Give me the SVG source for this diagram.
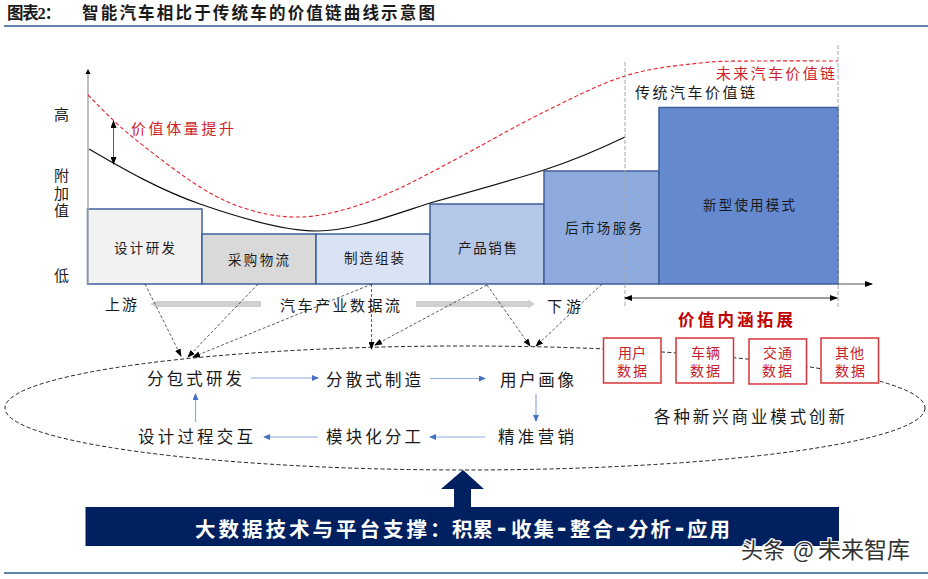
<svg xmlns="http://www.w3.org/2000/svg" width="928" height="579" viewBox="0 0 928 579">
<style>
text{font-family:"Liberation Serif","Noto Sans CJK SC",serif;fill:#1a1a1a;font-size:15px}
.b{font-size:13.5px}
.m{font-size:16.5px}
.l{font-size:15px}
.r{fill:#d01f2c}
.d{font-size:14px;fill:#c8202a}
.dash{fill:none;stroke:#333;stroke-width:.8;stroke-dasharray:3 2}
.blue{fill:none;stroke:#8faadc;stroke-width:1.2;marker-end:url(#bh)}
.box{stroke:#3f5f9a;stroke-width:1.5}
.rb{fill:#fff;stroke:#d8343a;stroke-width:1.5}
.guide{fill:none;stroke:#a6a6a6;stroke-width:1;stroke-dasharray:4 2}
.flow{fill:#d0d0d0}
.h{font-size:28px;font-family:"Liberation Sans",sans-serif}
</style>
<defs>
<marker id="ah" markerWidth="8" markerHeight="6" refX="7" refY="3" orient="auto" markerUnits="userSpaceOnUse"><path d="M0 0L8 3L0 6z" fill="#000"/></marker>
<marker id="ahs" markerWidth="8" markerHeight="6" refX="7" refY="3" orient="auto-start-reverse" markerUnits="userSpaceOnUse"><path d="M0 0L8 3L0 6z" fill="#000"/></marker>
<marker id="bh" markerWidth="7" markerHeight="6" refX="6" refY="3" orient="auto" markerUnits="userSpaceOnUse"><path d="M0 0L7 3L0 6z" fill="#4472c4"/></marker>
</defs>
<g id="frame">
<rect x="4" y="25" width="924" height="2" fill="#5f82ab"/>
<rect x="4" y="572" width="924" height="2" fill="#5f82ab"/>
<text x="7" y="19" style="font-size:16.5px;font-weight:700" textLength="54">图表2：</text>
<text x="82" y="19" style="font-size:16.5px;font-weight:700" textLength="353">智能汽车相比于传统车的价值链曲线示意图</text>
</g>
<g id="axis-labels">
<text x="54" y="120" class="l">高</text>
<text x="54" y="181" class="l">附</text>
<text x="54" y="199" class="l">加</text>
<text x="54" y="216" class="l">值</text>
<text x="54" y="281" class="l">低</text>
</g>
<g id="stage-design"><rect class="box" x="87.5" y="209" width="114.5" height="75" fill="#f2f2f2"/><text class="b" x="114" y="253" textLength="61">设计研发</text></g>
<g id="stage-purchase"><rect class="box" x="202" y="234" width="114" height="50" fill="#d9d9d9"/><text class="b" x="228" y="265" textLength="61">采购物流</text></g>
<g id="stage-manufacture"><rect class="box" x="316" y="234" width="114" height="50" fill="#dae3f3"/><text class="b" x="344" y="263" textLength="60">制造组装</text></g>
<g id="stage-sales"><rect class="box" x="430" y="204" width="114" height="80" fill="#b4c7e7"/><text class="b" x="458" y="253" textLength="59">产品销售</text></g>
<g id="stage-aftermarket"><rect class="box" x="544" y="171" width="115" height="113" fill="#8faadc"/><text class="b" x="565" y="233" textLength="77">后市场服务</text></g>
<g id="stage-newmode"><rect class="box" x="659" y="107.500" width="179" height="176.500" fill="#6589cf"/><text class="b" x="703" y="210" textLength="92">新型使用模式</text></g>
<g id="connectors">
<path d="M88 284V72" fill="none" stroke="#aaa" stroke-width="1.5"/>
<path d="M88 69L90.500 74H85.500z" fill="#000"/>
<path d="M838 284H872" stroke="#555" stroke-width="1" fill="none" marker-end="url(#ah)"/>
<path d="M89 149C125 170 160 190 200 204C240 218 285 231 317 231C350 231 390 216 430 203C470 192 510 181 544 170C575 160 600 149 625 137" fill="none" stroke="#111" stroke-width="1.2"/>
<path d="M88 95C95 101.700 111.300 119.700 130 135C148.700 150.300 180 174.500 200 187C220 199.500 233.300 205 250 210C266.700 215 283.300 217.300 300 217C316.700 216.700 333.300 212.800 350 208C366.700 203.200 381.700 196.500 400 188C418.300 179.500 436 169.700 460 157C484 144.300 516.500 125.500 544 112C571.500 98.500 599 84.200 625 76C651 67.800 677.500 65.500 700 63C722.500 60.500 737 61.300 760 61C783 60.700 825 61 838 61" fill="none" stroke="#e8202a" stroke-width="1.1" stroke-dasharray="4 2.500"/>
<path d="M113.500 121V164" fill="none" stroke="#333" stroke-width=".8" marker-start="url(#ahs)" marker-end="url(#ah)"/>
<path class="guide" d="M625 62V308"/>
<path class="guide" d="M838 45V308"/>
<path d="M625 298H837" fill="none" stroke="#333" stroke-width="1" marker-start="url(#ahs)" marker-end="url(#ah)"/>
<path class="flow" d="M150 304L156 301H261V307H156z"/>
<path class="flow" d="M416 301H528V299.500L535 304L528 308.500V307H416z"/>
<ellipse cx="465" cy="408" rx="460" ry="62" fill="none" stroke="#222" stroke-width="1" stroke-dasharray="4 2.500"/>
<path class="dash" d="M145 284L181 356" marker-end="url(#ah)"/>
<path class="dash" d="M258 284L188 357" marker-end="url(#ah)"/>
<path class="dash" d="M372 284L193 357" marker-end="url(#ah)"/>
<path class="dash" d="M371.500 284V349" marker-end="url(#ah)"/>
<path class="dash" d="M487 285L375 345" marker-end="url(#ah)"/>
<path class="dash" d="M487 285L530 346" marker-end="url(#ah)"/>
<path class="dash" d="M602 284L536 346" marker-end="url(#ah)"/>
<path class="blue" d="M251 378H318"/>
<path class="blue" d="M430 378.500H485"/>
<path class="blue" d="M536 394V421"/>
<path class="blue" d="M485 437H430"/>
<path class="blue" d="M318 437H264"/>
<path class="blue" d="M195.500 422V394"/>
</g>
<g id="labels">
<text class="r" x="131" y="134" style="font-size:15px" textLength="103">价值体量提升</text>
<text class="r" x="716" y="79" style="font-size:15px" textLength="119">未来汽车价值链</text>
<text x="635" y="98" style="font-size:15px" textLength="120">传统汽车价值链</text>
<text x="105" y="310" class="l" textLength="32">上游</text>
<text x="280" y="311" class="l" textLength="120">汽车产业数据流</text>
<text x="547" y="312" class="l" textLength="34">下游</text>
<text x="654" y="423" class="m" textLength="191">各种新兴商业模式创新</text>
</g>
<g id="node-rd"><text class="m" x="147" y="385" textLength="95">分包式研发</text></g>
<g id="node-mfg"><text class="m" x="326" y="386" textLength="95">分散式制造</text></g>
<g id="node-user"><text class="m" x="500" y="386" textLength="74">用户画像</text></g>
<g id="node-marketing"><text class="m" x="498" y="443" textLength="76">精准营销</text></g>
<g id="node-modular"><text class="m" x="326" y="443" textLength="95">模块化分工</text></g>
<g id="node-design"><text class="m" x="138" y="443" textLength="115">设计过程交互</text></g>
<g id="value-title"><text x="678" y="326" style="font-size:16.5px;font-weight:700;fill:#c00000" textLength="115">价值内涵拓展</text></g>
<g id="data-user"><rect class="rb" x="603.500" y="338" width="57.500" height="45"/><text class="d" x="618" y="358" textLength="28">用户</text><text class="d" x="617" y="376" textLength="30">数据</text></g>
<g id="data-vehicle"><rect class="rb" x="676" y="338" width="57.500" height="45"/><text class="d" x="691" y="358" textLength="29">车辆</text><text class="d" x="690" y="376" textLength="30">数据</text></g>
<g id="data-traffic"><rect class="rb" x="749" y="339" width="57.500" height="45"/><text class="d" x="763" y="358" textLength="29">交通</text><text class="d" x="762" y="376" textLength="30">数据</text></g>
<g id="data-other"><rect class="rb" x="821" y="338" width="57.500" height="45"/><text class="d" x="835" y="358" textLength="29">其他</text><text class="d" x="835" y="376" textLength="30">数据</text></g>
<g id="platform">
<path d="M463 470L484 489H471V507H454V489H441z" fill="#002060"/>
<rect x="85.500" y="507" width="753.500" height="39" fill="#002060"/>
<text y="537" style="font-size:20.500px;font-weight:700;fill:#fff"><tspan x="195" letter-spacing="3">大数据技术与平台支撑：</tspan><tspan x="452">积累</tspan><tspan class="h" x="497" style="fill:#fff">-</tspan><tspan x="511" letter-spacing="2">收集</tspan><tspan class="h" x="557" style="fill:#fff">-</tspan><tspan x="570" letter-spacing="2">整合</tspan><tspan class="h" x="616" style="fill:#fff">-</tspan><tspan x="628" letter-spacing="2">分析</tspan><tspan class="h" x="675" style="fill:#fff">-</tspan><tspan x="687" letter-spacing="2">应用</tspan></text>
</g>
<g id="watermark"><text y="558" style="font-family:'Noto Sans CJK SC','Liberation Sans',sans-serif;font-size:22px;fill:#333;stroke:#fff;stroke-width:2.500px;paint-order:stroke"><tspan x="741">头条</tspan><tspan x="793">@</tspan><tspan x="818" style="font-size:23px">未来智库</tspan></text></g>
</svg>
